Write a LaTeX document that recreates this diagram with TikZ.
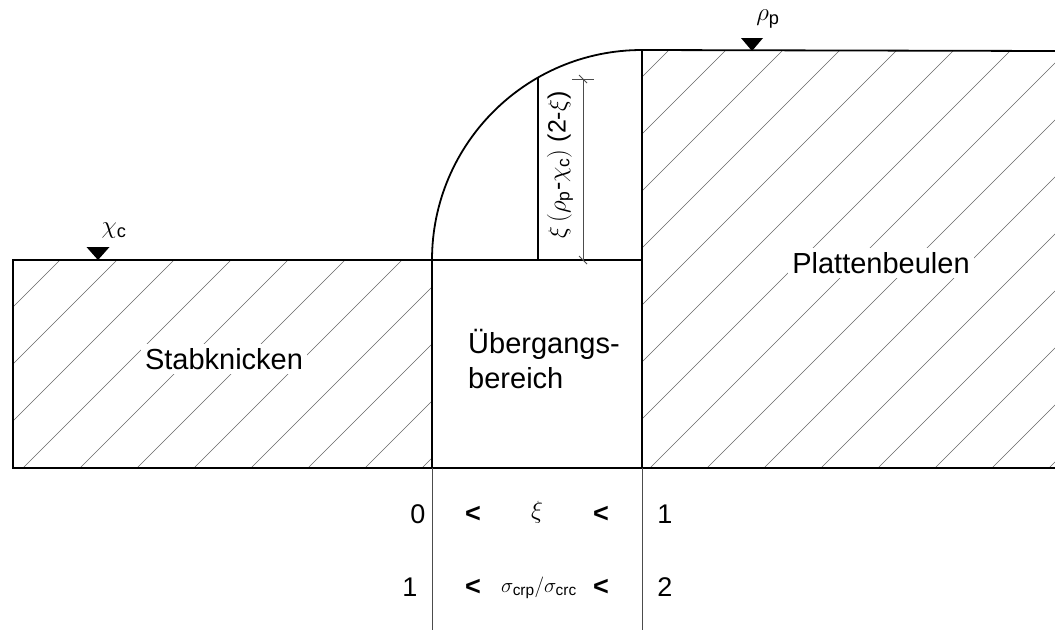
\documentclass[tikz,border=0pt]{standalone}
\usepackage{amsmath}
\usepackage{fontspec}
\setmainfont{Liberation Sans}
\usetikzlibrary{positioning,calc}

\tikzset{
  outline/.style={line width=1.8pt, black},
  hatch/.style={line width=0.6pt, black!60},
  thinline/.style={line width=0.8pt, black!70},
  regionlabel/.style={font=\fontsize{29}{35}\selectfont, fill=white, inner sep=4pt},
  rangelabel/.style={font=\fontsize{27}{30}\selectfont},
  symlabel/.style={font=\fontsize{26}{29}\selectfont, inner sep=1pt},
  marker/.style={fill=black},
}

\begin{document}
\begin{tikzpicture}[x=1pt, y=-1pt]
  \useasboundingbox (0,0) rectangle (1055,630);

  % hatching of the two outer regions
  \begin{scope}
    \clip (13,260) rectangle (432,468) (642,51) rectangle (1055,468);
    \foreach \c in {0,...,32}
      \draw[hatch] ({35+57*\c},0) -- ({35+57*\c-700},700);
  \end{scope}

  % region labels (masking the hatching)
  \node[regionlabel] (stab) at (224,359) {Stabknicken};
  \node[regionlabel] (platte) at (881,263) {Plattenbeulen};
  \node[regionlabel, fill=none, align=left] (ueber) at (544,359) {Übergangs-\\bereich};

  % outlines
  \draw[outline] (432,260) -- (13,260) -- (13,468) -- (1055,468);
  \draw[outline] (432,260) -- (642,260);
  \draw[outline] (432,468) -- (432,260) arc[start angle=180, end angle=270, radius=210] -- (1055,51);
  \draw[outline] (642,51) -- (642,468);
  \draw[outline] (538,260) -- (538,77.6);

  % level markers
  \coordinate (chitip) at (98,260);
  \coordinate (rhotip) at (752,51);
  \fill[marker] (chitip) -- ++(-11.5,-13) -- ++(23,0) -- cycle;
  \fill[marker] (rhotip) -- ++(-11,-13) -- ++(22,0) -- cycle;
  \node[symlabel] (chi) at (114,231) {$\chi_{\text{c}}$};
  \node[symlabel] (rho) at (768,19) {$\rho_{\text{p}}$};

  % dimension of the transition step
  \coordinate (dimtop) at (583,79);
  \coordinate (dimbot) at (583,260);
  \draw[thinline] (dimtop) -- (dimbot);
  \draw[thinline] ($(dimtop)+(-11,0)$) -- ($(dimtop)+(11,0)$);
  \draw[thinline] ($(dimtop)+(-4,-4)$) -- ($(dimtop)+(4,4)$);
  \draw[thinline] ($(dimbot)+(-4,-4)$) -- ($(dimbot)+(4,4)$);
  \node[font=\fontsize{25}{28}\selectfont, rotate=90] (dimtext) at (560,165)
    {$\xi\,(\rho_{\text{p}}\text{-}\chi_{\text{c}})$ (2-$\xi$)};

  % limits below
  \draw[thinline] (432,468) -- (432,630);
  \draw[thinline] (642,468) -- (642,630);
  \node[rangelabel] (lo1) at (418,514) {0};
  \node[rangelabel] (lt1) at (473,514) {\textbf{<}};
  \node[rangelabel] (xi) at (537,512) {$\xi$};
  \node[rangelabel] (lt2) at (601,514) {\textbf{<}};
  \node[rangelabel] (hi1) at (665,514) {1};
  \node[rangelabel] (lo2) at (410,587) {1};
  \node[rangelabel] (lt3) at (473,587) {\textbf{<}};
  \node[rangelabel, font=\fontsize{22}{26}\selectfont] (ratio) at (539,588)
    {$\sigma_{\text{crp}}/\sigma_{\text{crc}}$};
  \node[rangelabel] (lt4) at (601,587) {\textbf{<}};
  \node[rangelabel] (hi2) at (665,587) {2};
\end{tikzpicture}
\end{document}
